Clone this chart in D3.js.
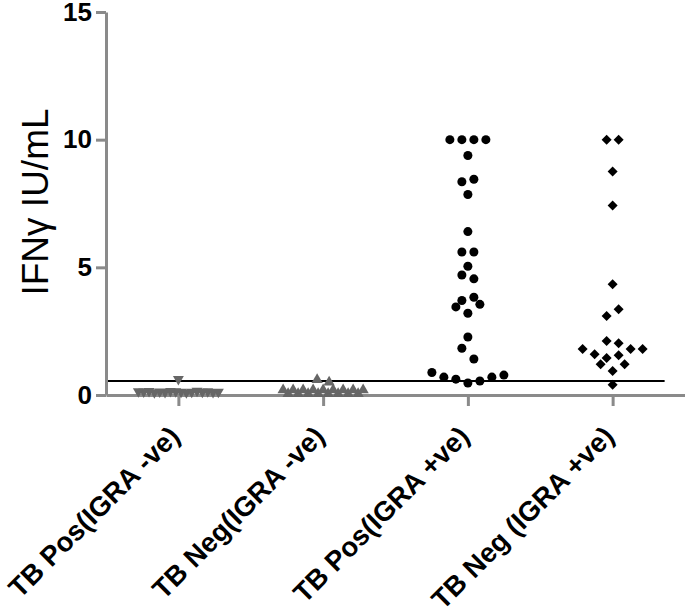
<!DOCTYPE html>
<html>
<head>
<meta charset="utf-8">
<script src="https://cdn.jsdelivr.net/npm/d3@7"></script>
<style>
  body { margin: 0; background: #fff; }
  svg text { font-family: "Liberation Sans", Arial, sans-serif; }
</style>
</head>
<body>
<svg id="chart"></svg>
<script>
// Chart data
const categories = ["TB Pos(IGRA -ve)", "TB Neg(IGRA -ve)", "TB Pos(IGRA +ve)", "TB Neg (IGRA +ve)"];

const tbPosIgraNeg = [0.12, 0.14, 0.10, 0.15, 0.12, 0.11, 0.16, 0.13, 0.12, 0.10, 0.14, 0.15, 0.11, 0.13, 0.12, 0.14, 0.62];
const tbNegIgraNeg = [0.2, 0.05, 0.05, 0.2, 0.2, 0.05, 0.05, 0.2, 0.2, 0.05, 0.05, 0.2, 0.2, 0.05, 0.05, 0.2, 0.2, 0.5, 0.6];
const tbPosIgraPos = [0.47, 0.55, 0.62, 0.70, 0.70, 0.78, 0.88, 1.41, 1.83, 2.27, 3.2, 3.55, 3.45, 3.83, 3.7,
                      4.55, 4.7, 5.04, 5.6, 5.6, 6.4, 7.85, 8.45, 8.35, 9.38, 10, 10, 10, 10];
const tbNegIgraPos = [0.4, 0.94, 1.2, 1.2, 1.56, 1.45, 1.8, 1.6, 1.8, 1.8, 2.03, 2.11, 3.36, 3.09, 4.34, 7.42, 8.75, 10, 10];

const yTicks = [0, 5, 10, 15];
const cutoff = 0.55;

const groups = [
  {values: tbPosIgraNeg, symbol: d3.symbolTriangle, rotate: 180, size: 52, color: "#666666"},
  {values: tbNegIgraNeg, symbol: d3.symbolTriangle, rotate: 0, size: 55, color: "#666666"},
  {values: tbPosIgraPos, symbol: d3.symbolCircle, rotate: 0, size: 64, color: "#000000"},
  {values: tbNegIgraPos, symbol: d3.symbolSquare, rotate: 45, size: 50, color: "#000000"}
];

const width = 685,
  height = 615;

const svg = d3.select("#chart")
  .attr("width", width)
  .attr("height", height);

// Scales
const xScale = d3.scalePoint()
  .domain(categories)
  .range([106, 685])
  .padding(0.5);

const yScale = d3.scaleLinear()
  .domain([0, 15])
  .range([395, 12]);

const axisColor = "#8a8a8a";

// Y axis
const yAxis = svg.append("g")
  .attr("transform", "translate(106,0)")
  .call(d3.axisLeft(yScale).tickValues(yTicks).tickSize(10).tickSizeOuter(0).tickPadding(4));
yAxis.select(".domain").attr("stroke", axisColor).attr("stroke-width", 3);
yAxis.selectAll(".tick line").attr("stroke", axisColor).attr("stroke-width", 3);
yAxis.selectAll(".tick text")
  .attr("fill", "#000")
  .style("font-size", "26px")
  .style("font-weight", "bold")
  .style("font-family", "'Liberation Sans', Arial, sans-serif");

// X axis
const xAxis = svg.append("g")
  .attr("transform", `translate(0,${yScale(0)})`)
  .call(d3.axisBottom(xScale).tickSize(11).tickSizeOuter(0).tickFormat(""));
xAxis.select(".domain").attr("stroke", axisColor).attr("stroke-width", 3);
xAxis.selectAll(".tick line").attr("stroke", axisColor).attr("stroke-width", 3);

// Category labels, rotated
svg.append("g")
  .selectAll("text")
  .data(categories)
  .enter()
  .append("text")
  .attr("transform", (d) => `translate(${xScale(d) + 3},438) rotate(-45)`)
  .attr("text-anchor", "end")
  .style("font-size", "27.5px")
  .style("font-weight", "bold")
  .text((d) => d);

// Y axis title
svg.append("text")
  .attr("transform", `translate(48,${202}) rotate(-90)`)
  .attr("text-anchor", "middle")
  .style("font-size", "37px")
  .text("IFNγ IU/mL");

// Cut-off line
svg.append("line")
  .attr("x1", 108)
  .attr("x2", xScale(categories[3]) + 52)
  .attr("y1", yScale(cutoff))
  .attr("y2", yScale(cutoff))
  .attr("stroke", "#000")
  .attr("stroke-width", 2);

// Scatter layout: bin values into rows, spread each row around the category centre
const rowHeight = 11 / (yScale(0) - yScale(1));
const pointGap = 12, maxRowWidth = 80;

function layout(values) {
  const order = d3.range(values.length).sort((a, b) => values[a] - values[b] || a - b);
  const rows = [];
  order.forEach((i) => {
    const row = rows[rows.length - 1];
    if (row && values[i] - row.start < rowHeight) row.items.push(i);
    else rows.push({start: values[i], items: [i]});
  });
  const offsets = new Array(values.length);
  rows.forEach((row) => {
    const items = row.items.slice().sort((a, b) => a - b);
    const n = items.length;
    const s = n > 1 ? Math.min(pointGap, maxRowWidth / (n - 1)) : 0;
    const slots = d3.range(n).map((j) => (j - (n - 1) / 2) * s)
      .sort((a, b) => Math.abs(a) - Math.abs(b) || b - a);
    items.forEach((i, k) => { offsets[i] = slots[k]; });
  });
  return offsets;
}

// Draw the points
groups.forEach((g, gi) => {
  const offsets = layout(g.values);
  const cx = xScale(categories[gi]);
  svg.append("g")
    .selectAll("path")
    .data(g.values)
    .enter()
    .append("path")
    .attr("d", d3.symbol().type(g.symbol).size(g.size))
    .attr("transform", (d, i) => `translate(${cx + offsets[i]},${yScale(d)}) rotate(${g.rotate})`)
    .attr("fill", g.color);
});
</script>
</body>
</html>
